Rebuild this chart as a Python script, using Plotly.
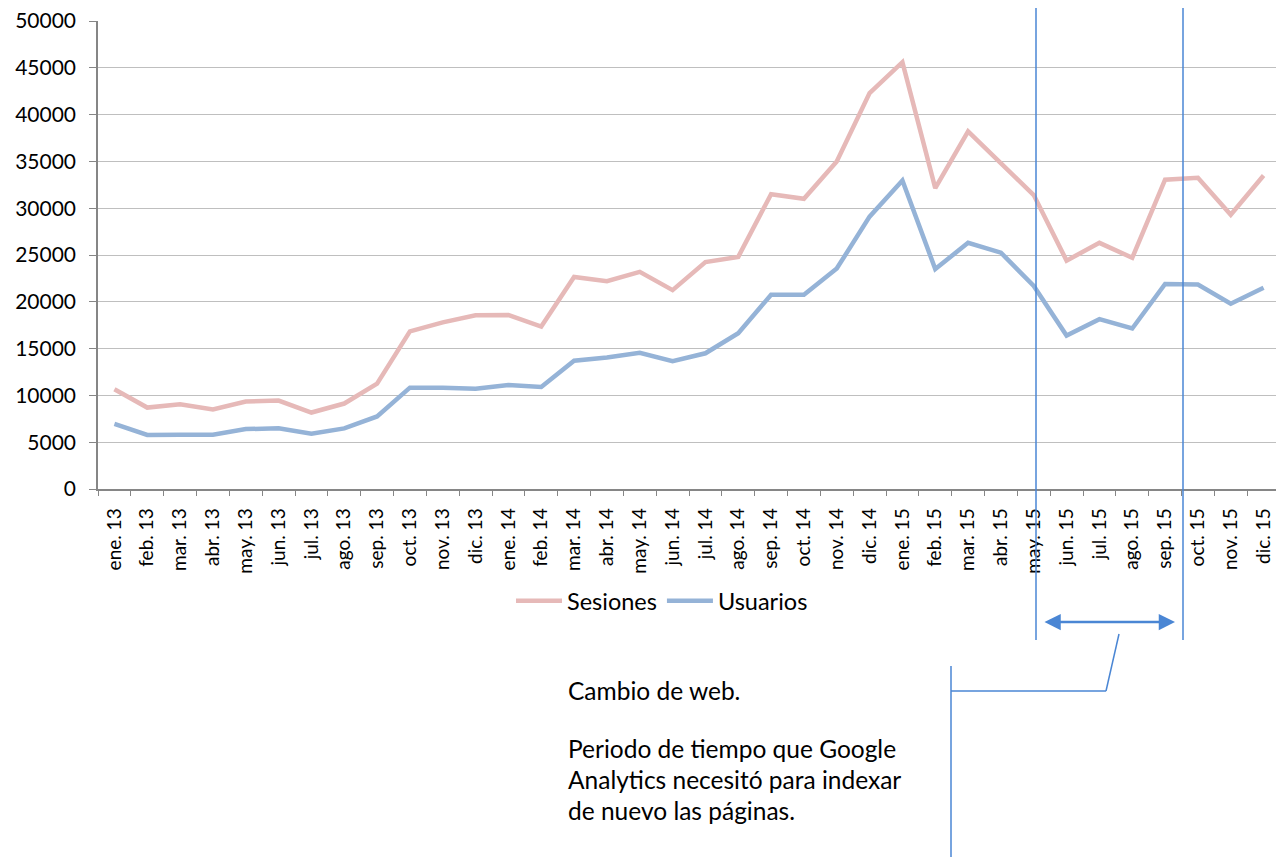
import plotly.graph_objects as go

# Datos mensuales (ene. 2013 - dic. 2015)
meses = [
    "ene. 13", "feb. 13", "mar. 13", "abr. 13", "may. 13", "jun. 13",
    "jul. 13", "ago. 13", "sep. 13", "oct. 13", "nov. 13", "dic. 13",
    "ene. 14", "feb. 14", "mar. 14", "abr. 14", "may. 14", "jun. 14",
    "jul. 14", "ago. 14", "sep. 14", "oct. 14", "nov. 14", "dic. 14",
    "ene. 15", "feb. 15", "mar. 15", "abr. 15", "may. 15", "jun. 15",
    "jul. 15", "ago. 15", "sep. 15", "oct. 15", "nov. 15", "dic. 15",
]

sesiones = [
    10650, 8700, 9060, 8490, 9340, 9450, 8170, 9130, 11250, 16840, 17800, 18550,
    18600, 17350, 22650, 22200, 23200, 21250, 24250, 24800, 31500, 31000, 35000, 42300,
    45600, 32150, 38200, 34850, 31400, 24400, 26300, 24700, 33050, 33250, 29300, 33500,
]

usuarios = [
    6950, 5780, 5800, 5800, 6400, 6480, 5900, 6480, 7750, 10830, 10830, 10700,
    11100, 10900, 13700, 14050, 14550, 13650, 14500, 16650, 20750, 20750, 23550, 29100,
    32950, 23500, 26300, 25250, 21700, 16400, 18150, 17150, 21900, 21850, 19800, 21500,
]

FUENTE = "Lato, 'Open Sans', sans-serif"
AZUL = "#4A86D4"

# la pagina deja 8px de margen alrededor de la figura
OFF = 8
W, H = 1284 - OFF, 861 - OFF
L, T = 98 - OFF, 21 - OFF
R = W - (1280 - OFF)
B = H - (489 - OFF)
PW, PH = W - L - R, H - T - B


def px_x(x):
    # pixel de pantalla -> coordenada paper
    return (x - OFF - L) / PW


def px_y(y):
    return (H - B - (y - OFF)) / PH


fig = go.Figure()

fig.add_trace(go.Scatter(
    x=meses, y=sesiones, name="Sesiones", mode="lines",
    line=dict(color="#E6B9B8", width=4.5),
))
fig.add_trace(go.Scatter(
    x=meses, y=usuarios, name="Usuarios", mode="lines",
    line=dict(color="#95B3D7", width=4.5),
))

fig.update_layout(
    width=W, height=H,
    margin=dict(l=L, r=R, t=T, b=B, autoexpand=False),
    plot_bgcolor="white", paper_bgcolor="white",
    font=dict(family=FUENTE, color="black"),
    showlegend=True,
    legend=dict(
        orientation="h", x=px_x(662), xanchor="center", y=px_y(601), yanchor="middle",
        font=dict(size=23.5, family=FUENTE), bgcolor="rgba(0,0,0,0)",
        itemwidth=46, tracegroupgap=0,
    ),
)

fig.update_xaxes(
    type="category", tickson="boundaries", ticks="outside", ticklen=5,
    tickcolor="#868686", showline=True, linecolor="#868686", linewidth=1.5,
    tickangle=-90, tickfont=dict(size=19, family=FUENTE, color="black"),
    ticklabelstandoff=10,
    showgrid=False, range=[-0.5, len(meses) - 0.5], automargin=False,
)
fig.update_yaxes(
    range=[0, 50000], dtick=5000, tickformat="d", ticks="outside", ticklen=7,
    tickcolor="#868686", showline=True, linecolor="#868686", linewidth=1.5,
    gridcolor="#BFBFBF", gridwidth=1, zeroline=False, automargin=False,
    ticklabelstandoff=9, ticklabeloverflow="allow",
    tickfont=dict(size=21, family=FUENTE, color="black"),
)

# lineas de anotacion (cambio de web)
lineas = [
    (1036, 5, 1036, 640),
    (1183, 5, 1183, 640),
    (1119, 634, 1106, 691),
    (1106, 691, 951, 691),
    (951, 666, 951, 857),
]
for x0, y0, x1, y1 in lineas:
    fig.add_shape(
        type="line", xref="paper", yref="paper",
        x0=px_x(x0), y0=px_y(y0), x1=px_x(x1), y1=px_y(y1),
        line=dict(color=AZUL, width=1.5),
    )

# flecha doble
fig.add_annotation(
    xref="paper", yref="paper", x=px_x(1175), y=px_y(622),
    ax=-132, ay=0, showarrow=True, arrowside="end+start",
    arrowhead=2, arrowsize=1.3, arrowwidth=2.5, arrowcolor=AZUL, text="",
)

textos = [
    ("Cambio de web.", 690),
    ("Periodo de tiempo que Google", 748),
    ("Analytics necesitó para indexar", 779),
    ("de nuevo las páginas.", 810),
]
for txt, y in textos:
    fig.add_annotation(
        xref="paper", yref="paper", x=px_x(566), y=px_y(y),
        xanchor="left", yanchor="middle", showarrow=False,
        text=txt, font=dict(size=24.5, family=FUENTE, color="black"),
    )

fig.write_html("out.html")
